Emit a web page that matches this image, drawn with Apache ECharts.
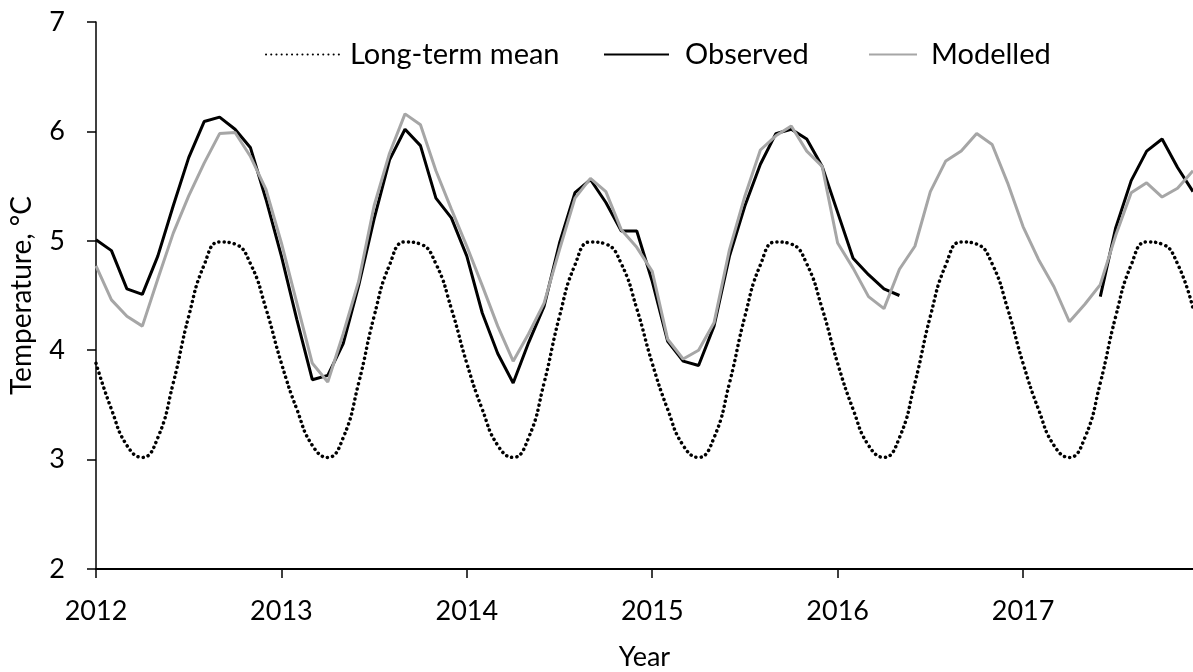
<!DOCTYPE html>
<html>
<head>
<meta charset="utf-8">
<script src="https://cdn.jsdelivr.net/npm/echarts/dist/echarts.min.js"></script>
<style>
html,body{margin:0;padding:0;background:#fff;}
#chart{width:1193px;height:672px;}
</style>
</head>
<body>
<div id="chart"></div>
<script>
// ---- data ----
const years = [2012, 2013, 2014, 2015, 2016, 2017];
const monthsOfYear = ['01','02','03','04','05','06','07','08','09','10','11','12'];
const categories = years.flatMap(y => monthsOfYear.map(m => y + '-' + m));

const longTermMean = [
  3.88, 3.46, 3.13, 3.02, 3.20, 3.70, 4.31, 4.78, 4.99, 4.97, 4.79, 4.38,
  3.88, 3.46, 3.13, 3.02, 3.20, 3.70, 4.31, 4.78, 4.99, 4.97, 4.79, 4.38,
  3.88, 3.46, 3.13, 3.02, 3.20, 3.70, 4.31, 4.78, 4.99, 4.97, 4.79, 4.38,
  3.88, 3.46, 3.13, 3.02, 3.20, 3.70, 4.31, 4.78, 4.99, 4.97, 4.79, 4.38,
  3.88, 3.46, 3.13, 3.02, 3.20, 3.70, 4.31, 4.78, 4.99, 4.97, 4.79, 4.38,
  3.88, 3.46, 3.13, 3.02, 3.20, 3.70, 4.31, 4.78, 4.99, 4.97, 4.79, 4.38
];

const observed = [
  5.01, 4.91, 4.56, 4.51, 4.86, 5.32, 5.76, 6.09, 6.13, 6.02, 5.85, 5.38,
  4.86, 4.28, 3.73, 3.77, 4.06, 4.59, 5.20, 5.74, 6.02, 5.87, 5.39, 5.21,
  4.86, 4.34, 3.97, 3.70, 4.07, 4.40, 4.98, 5.44, 5.56, 5.35, 5.09, 5.09,
  4.63, 4.08, 3.90, 3.86, 4.22, 4.86, 5.32, 5.70, 5.98, 6.02, 5.93, 5.68,
  5.26, 4.84, 4.69, 4.56, 4.50, null, null, null, null, null, null, null,
  null, null, null, null, null, 4.49, 5.12, 5.55, 5.82, 5.93, 5.67, 5.45
];

const modelled = [
  4.77, 4.46, 4.31, 4.22, 4.65, 5.07, 5.41, 5.71, 5.98, 5.99, 5.77, 5.47,
  4.98, 4.43, 3.88, 3.71, 4.15, 4.63, 5.32, 5.80, 6.16, 6.06, 5.64, 5.29,
  4.95, 4.59, 4.22, 3.90, 4.15, 4.43, 4.92, 5.39, 5.57, 5.45, 5.10, 4.94,
  4.72, 4.10, 3.92, 4.00, 4.25, 4.92, 5.41, 5.83, 5.96, 6.05, 5.82, 5.68,
  4.98, 4.75, 4.49, 4.38, 4.74, 4.95, 5.45, 5.73, 5.82, 5.98, 5.88, 5.53,
  5.13, 4.83, 4.58, 4.26, 4.42, 4.60, 5.05, 5.44, 5.53, 5.40, 5.48, 5.64
];

const yTicks = {min: 2, max: 7, interval: 1};

// ---- chart ----
const FONT = 'Lato';
const chart = echarts.init(document.getElementById('chart'), null, {renderer: 'canvas'});
const textBase = {fontFamily: FONT, fontSize: 27, color: '#000'};
const legendText = {fontFamily: FONT, fontSize: 29, color: '#000'};
const hiddenSymbol = {color: 'rgba(0,0,0,0)', borderWidth: 0, opacity: 0};

chart.setOption({
  animation: false,
  backgroundColor: '#fff',
  grid: {left: 96, right: 0, top: 22, bottom: 103, containLabel: false, outerBoundsMode: 'none'},
  legend: [
    {data: ['Long-term mean'], left: 265, top: 40, padding: 0, itemWidth: 75, itemHeight: 14,
     itemStyle: hiddenSymbol,
     textStyle: Object.assign({}, legendText, {padding: [0, 0, 0, 4]})},
    {data: ['Observed'], left: 603, top: 40, padding: 0, itemWidth: 65, itemHeight: 14,
     itemStyle: hiddenSymbol,
     textStyle: Object.assign({}, legendText, {padding: [0, 0, 0, 11]})},
    {data: ['Modelled'], left: 868, top: 40, padding: 0, itemWidth: 48, itemHeight: 14,
     itemStyle: hiddenSymbol,
     textStyle: Object.assign({}, legendText, {padding: [0, 0, 0, 9]})}
  ],
  xAxis: {
    type: 'category',
    data: categories,
    boundaryGap: false,
    name: 'Year',
    nameLocation: 'middle',
    nameGap: 75,
    nameTextStyle: textBase,
    axisLine: {show: true, lineStyle: {color: '#000', width: 2.2}},
    axisTick: {show: true, length: 9, interval: (i) => i % 12 === 0, lineStyle: {color: '#000', width: 1.5}},
    axisLabel: {
      interval: (i) => i % 12 === 0,
      formatter: (v) => v.slice(0, 4),
      margin: 29,
      fontFamily: FONT, fontSize: 27, color: '#000'
    },
    splitLine: {show: false}
  },
  yAxis: {
    type: 'value',
    min: yTicks.min, max: yTicks.max, interval: yTicks.interval,
    name: 'Temperature, °C',
    nameLocation: 'middle',
    nameGap: 60,
    nameTextStyle: {fontFamily: FONT, fontSize: 28, color: '#000'},
    axisLine: {show: true, lineStyle: {color: '#000', width: 1.5}},
    axisTick: {show: true, length: 9, lineStyle: {color: '#000', width: 1.5}},
    axisLabel: {margin: 31, fontFamily: FONT, fontSize: 27, color: '#000'},
    splitLine: {show: false}
  },
  series: [
    {
      name: 'Long-term mean', type: 'line', data: longTermMean,
      smooth: true, symbol: 'none',
      lineStyle: {color: '#000', width: 3.5, type: [0.1, 5.1], cap: 'round'},
      itemStyle: {color: '#000'}
    },
    {
      name: 'Observed', type: 'line', data: observed,
      symbol: 'none', connectNulls: false,
      lineStyle: {color: '#000', width: 3},
      itemStyle: {color: '#000'}
    },
    {
      name: 'Modelled', type: 'line', data: modelled,
      symbol: 'none',
      lineStyle: {color: '#a6a6a6', width: 3},
      itemStyle: {color: '#a6a6a6'}
    }
  ]
});
</script>
</body>
</html>
